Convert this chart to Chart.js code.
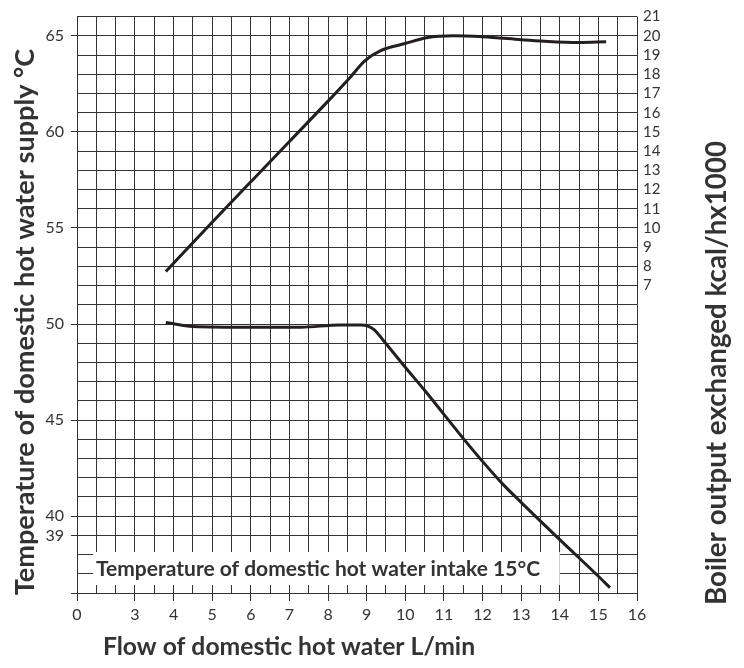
<!DOCTYPE html>
<html lang="en">
<head>
  <meta charset="UTF-8">
  <title>Boiler output / hot water flow</title>
  <script src="https://cdn.jsdelivr.net/npm/chart.js"></script>
  <style>
    html, body { margin: 0; padding: 0; background: #fff; }
  </style>
</head>
<body>
  <canvas id="grafico" width="744" height="668"></canvas>

  <script>
    // x axis is broken: the "0" label sits at 1.5, real values from 3 on
    const fluxoTemp = [3.8, 4.5, 6.0, 7.3, 8.3, 8.85, 9.05, 9.2, 9.45, 10.0, 10.5, 11.0, 11.5, 12.0, 12.5, 13.0, 14.0, 15.0, 15.3];
    const temperatura = [50.08, 49.87, 49.83, 49.83, 49.95, 49.95, 49.88, 49.7, 49.1, 47.75, 46.55, 45.3, 44.05, 42.85, 41.72, 40.72, 38.78, 36.87, 36.28];

    const fluxoPot = [3.8, 5.0, 6.0, 7.0, 8.0, 8.6, 8.95, 9.35, 10.0, 10.55, 11.25, 12.0, 13.0, 13.7, 14.5, 15.2];
    const potencia = [7.73, 10.3, 12.4, 14.5, 16.6, 17.9, 18.7, 19.22, 19.6, 19.9, 20.0, 19.95, 19.8, 19.7, 19.65, 19.69];

    const ticksX = [3, 4, 5, 6, 7, 8, 9, 10, 11, 12, 13, 14, 15, 16]; // plus "0" at 1.5
    const ticksTemp = [65, 60, 55, 50, 45, 40, 39];
    const ticksPot = [7, 8, 9, 10, 11, 12, 13, 14, 15, 16, 17, 18, 19, 20, 21];

    const tituloEsq = 'Temperature of domestic hot water supply °C';
    const tituloDir = 'Boiler output exchanged kcal/hx1000';
    const tituloBaixo = 'Flow of domestic hot water L/min';
    const textoEntrada = 'Temperature of domestic hot water intake 15°C';
  </script>

  <script>
    Chart.defaults.font.family = 'Lato';
    Chart.defaults.color = '#333';

    const corGrade = '#333';
    const corTexto = '#333';

    const tickX = v => v === 1.5 || ticksX.includes(v);

    // font size so the text takes the given width
    function ajustaFonte(c, texto, largura) {
      c.font = 'bold 20px Lato';
      const w = c.measureText(texto).width;
      return 20 * largura / w;
    }

    // white box with the intake label + titles
    const extras = {
      id: 'extras',
      beforeDatasetsDraw(chart) {
        const c = chart.ctx;
        const x = chart.scales.x;
        c.save();
        c.fillStyle = '#fff';
        const esq = x.getPixelForValue(1.5) + 16;
        const dir = x.getPixelForValue(14);
        c.fillRect(esq, 552, dir - esq, 33);
        c.fillStyle = corTexto;
        c.font = 'bold ' + ajustaFonte(c, textoEntrada, 444).toFixed(1) + 'px Lato';
        c.textBaseline = 'middle';
        c.fillText(textoEntrada, esq + 3, 569);
        c.restore();
      },
      afterDraw(chart) {
        const c = chart.ctx;
        c.save();
        c.fillStyle = corTexto;
        c.textAlign = 'center';
        c.textBaseline = 'middle';

        c.save();
        c.font = 'bold ' + ajustaFonte(c, tituloEsq, 546).toFixed(1) + 'px Lato';
        c.translate(25, 322);
        c.rotate(-Math.PI / 2);
        c.fillText(tituloEsq, 0, 0);
        c.restore();

        c.save();
        c.font = 'bold ' + ajustaFonte(c, tituloDir, 464).toFixed(1) + 'px Lato';
        c.translate(717, 373);
        c.rotate(-Math.PI / 2);
        c.fillText(tituloDir, 0, 0);
        c.restore();

        c.font = 'bold ' + ajustaFonte(c, tituloBaixo, 372).toFixed(1) + 'px Lato';
        c.fillText(tituloBaixo, 289, 647);
        c.restore();
      }
    };

    const grafico = new Chart(document.getElementById('grafico'), {
      type: 'line',
      data: {
        datasets: [
          {
            label: 'Temperatura',
            data: fluxoTemp.map((v, i) => ({ x: v, y: temperatura[i] })),
            yAxisID: 'y',
            borderColor: '#231f20',
            borderWidth: 3,
            pointRadius: 0,
            cubicInterpolationMode: 'monotone'
          },
          {
            label: 'Potencia',
            data: fluxoPot.map((v, i) => ({ x: v, y: potencia[i] })),
            yAxisID: 'y2',
            borderColor: '#231f20',
            borderWidth: 3,
            pointRadius: 0,
            cubicInterpolationMode: 'monotone'
          }
        ]
      },
      options: {
        responsive: false,
        animation: false,
        layout: { padding: { top: 14, left: 0, right: 0, bottom: 0 } },
        plugins: {
          legend: { display: false },
          tooltip: { enabled: false }
        },
        scales: {
          x: {
            type: 'linear',
            min: 1.5,
            max: 16,
            afterFit: s => { s.height = 75; },
            border: { display: false },
            grid: {
              color: corGrade,
              tickLength: 8,
              tickColor: ctx => tickX(ctx.tick.value) ? corGrade : 'rgba(0,0,0,0)'
            },
            ticks: {
              stepSize: 0.5,
              autoSkip: false,
              maxRotation: 0,
              padding: 4,
              font: { size: 16 },
              color: corTexto,
              callback: v => v === 1.5 ? '0' : (ticksX.includes(v) ? String(v) : '')
            }
          },
          y: {
            position: 'left',
            min: 36,
            max: 66,
            afterFit: s => { s.width = 77; },
            border: { display: false },
            grid: {
              color: corGrade,
              tickLength: 6,
              tickColor: ctx => (ticksTemp.includes(ctx.tick.value) || ctx.tick.value === 36) ? corGrade : 'rgba(0,0,0,0)'
            },
            ticks: {
              stepSize: 1,
              autoSkip: false,
              padding: 7,
              font: { size: 16 },
              color: corTexto,
              callback: v => ticksTemp.includes(v) ? String(v) : ''
            }
          },
          y2: {
            position: 'right',
            min: -9,
            max: 21,
            afterFit: s => { s.width = 107; },
            border: { display: false },
            grid: { display: false, drawTicks: false },
            ticks: {
              stepSize: 1,
              autoSkip: false,
              padding: 6,
              font: { size: 15 },
              color: corTexto,
              callback: v => ticksPot.includes(v) ? String(v) : ''
            }
          }
        }
      },
      plugins: [extras]
    });
  </script>
</body>
</html>
